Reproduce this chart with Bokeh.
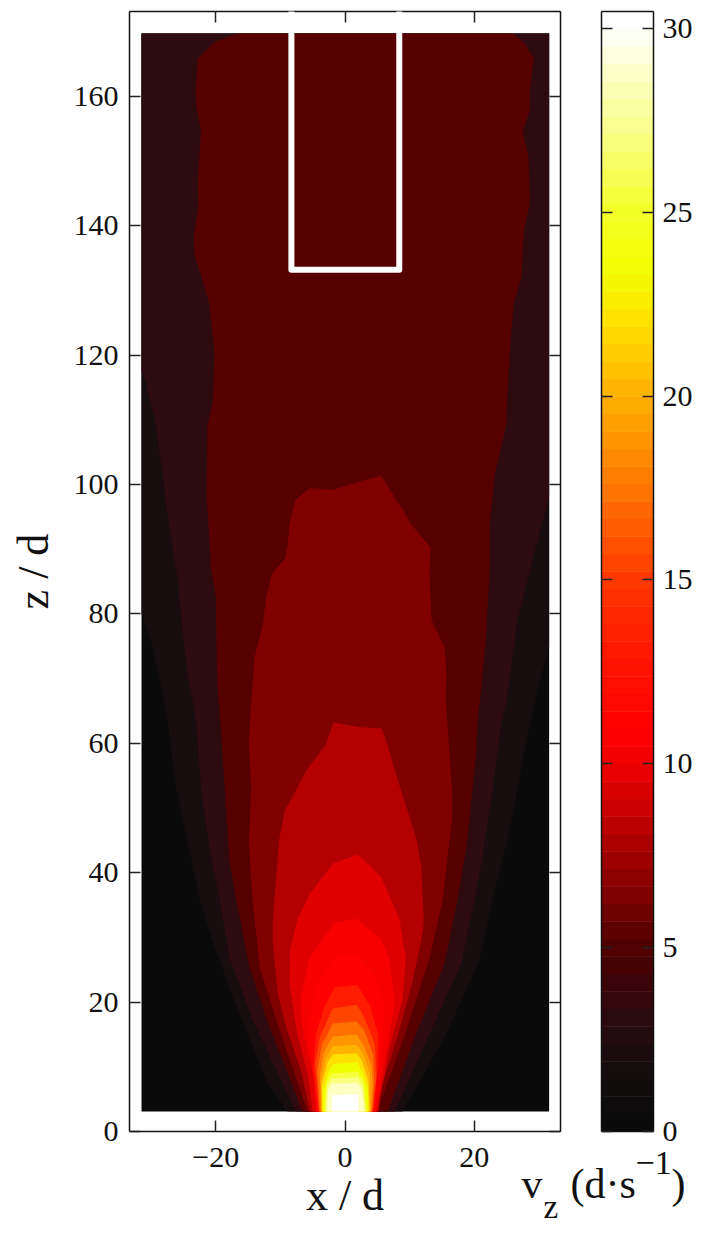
from bokeh.plotting import figure
from bokeh.layouts import row
from bokeh.models import LinearAxis, FixedTicker, Label, Range1d
from bokeh.embed import file_html
from bokeh.resources import INLINE
import numpy as np

FONT = "Liberation Serif"

# domain of the velocity map
x_min, x_max = -31.5, 31.6
z_min, z_max = 3.1, 169.7
background = "#0a0a0a"

# filled contours: left and right edge, top to bottom, as (x/d, z/d)
c01_left = [(-31.5,169.7),(-31.5,80),(-29.8,74.9),(-28,66.6),(-27.4,63.1),(-26.1,52.7),(-23.3,39.9),(-22.5,35.7),(-20.2,28.5),(-16.8,19.2),(-12,7.4),(-8.9,3.1)]
c01_right = [(31.6,169.7),(31.6,74.9),(30.1,69.7),(28,60),(25.5,46.5),(22.8,35.7),(20.8,26.4),(15.7,15.1),(8.9,3.1)]
c02_left = [(-31.5,169.7),(-31.5,117.6),(-30.9,116.1),(-29.2,108.9),(-27.5,95.5),(-25.9,85.2),(-24.6,72.3),(-23,63.1),(-22.3,53.2),(-21,43.9),(-19.4,35.7),(-17.9,26.9),(-14.3,17.2),(-10.1,8.4),(-7.6,3.1)]
c02_right = [(31.6,169.7),(31.6,98.3),(29.8,91.3),(26.7,79),(25,66.6),(24.2,63),(22.8,52.7),(21.3,42.4),(20,35.7),(18,26),(13.1,15.1),(7.7,3.1)]
c03_left = [(-16.6,169.7),(-20.2,168.4),(-22.8,165.8),(-23.1,161.4),(-23,158.3),(-22.3,154.5),(-22.8,146.5),(-22.7,142.9),(-23.4,138.2),(-23.3,135.6),(-21,128),(-20.2,120.2),(-20.5,112.5),(-21.3,109.1),(-21.4,98),(-20.7,86.7),(-20,82.6),(-19.8,69.7),(-19.3,63.5),(-18.7,54.3),(-17.9,41.9),(-16.8,35.7),(-14.8,25.4),(-11.7,16.1),(-8.6,8.4),(-6.6,3.1)]
c03_right = [(26,169.7),(27.9,168.1),(29.2,165.8),(28.6,160.9),(28.6,157.8),(27.5,154.5),(28.4,150.6),(28.6,143.4),(27.7,139.3),(27.3,132),(26.1,128),(25.5,120.2),(25.1,113),(25,109.4),(23.2,101.7),(22.4,94),(22.4,87.2),(21.9,77.4),(21.2,69.7),(20.5,63),(20.3,58.4),(18.8,43.9),(17.4,35.7),(15.4,26),(11,15.1),(6.6,3.1)]
c04_left = [(-5.5,99.4),(-7.7,97.6),(-8.6,93.9),(-8.9,90.3),(-9.3,88.5),(-11.2,86.4),(-12.2,82.6),(-12.7,78.5),(-14,73.3),(-14.5,66.6),(-14.9,60),(-14.5,53.2),(-14.9,44.5),(-14.3,35.7),(-13.2,25.4),(-10.1,15.6),(-7.6,8.4),(-5.8,3.1)]
c04_right = [(-1.9,99.2),(5.6,101.4),(7.7,98),(9.2,95.7),(10.2,93.9),(13.2,90.3),(13.1,86.2),(13.4,79),(15.4,74.9),(15.7,71.3),(15.6,66.6),(16.6,52.2),(16.6,48.6),(15.1,35.7),(13.1,26.9),(9.5,15.6),(5.6,4.8),(5.3,3.1)]
c05_left = [(-1.8,63.2),(-2.9,59.9),(-5.8,56.1),(-7.8,52.4),(-9.3,49.6),(-10.2,45),(-11.2,32.6),(-11.2,29.5),(-10.4,21.3),(-9.1,16.1),(-6.8,9.4),(-5.4,3.1)]
c05_right = [(2.2,62.5),(5.7,62.3),(6.6,59.7),(7.7,55.8),(10.5,47),(11.1,45),(11.8,40.9),(12.2,32.6),(12,30.6),(10.4,22.9),(8.4,15.6),(5.5,6.3),(5.2,3.1)]
c06_left = [(2,42.8),(-1.9,41.4),(-5.6,36.5),(-7.3,32.9),(-8.5,28),(-8.6,22.9),(-7.4,15.1),(-5.8,9),(-5,3.1)]
c06_right = [(5.6,39.3),(8.4,32.9),(9.4,26.9),(8.9,20.2),(6.9,13),(5,3.1)]
c07_left = [(-1.6,32.3),(-5.5,26.9),(-6.9,20.2),(-6.6,16.1),(-5,9),(-4.5,3.1)]
c07_right = [(1.7,32.9),(5.6,29.8),(6.9,26.4),(7.7,20.2),(6.9,15.1),(5.8,9),(4.8,3.1)]
c08_left = [(-1.6,26.9),(-4.3,22.6),(-5.6,17.2),(-5.2,11),(-4.3,3.1)]
c08_right = [(2.2,27.2),(4.6,24.1),(6.1,19.5),(5.8,13.3),(4.6,3.1)]
c09_left = [(-1.6,22.3),(-3.2,19.2),(-4.5,15.1),(-4.9,9.9),(-4.2,3.1)]
c09_right = [(1.9,22.7),(3.9,19.3),(5.2,14.8),(5.1,10),(4.3,3.1)]
c10_left = [(-1.9,19),(-3.9,14.6),(-4.6,10.5),(-4,3.1)]
c10_right = [(1.8,19.6),(2.7,18.2),(4.6,13.6),(4.9,8.7),(4.3,3.1)]
c11_left = [(-1.9,16.7),(-3.6,13.3),(-4.3,9.4),(-3.9,3.1)]
c11_right = [(1.8,17),(3,15.6),(4.4,11.7),(4.5,7.9),(4.2,3.1)]
c12_left = [(-1.9,14.7),(-3.3,12.2),(-3.9,8.7),(-3.7,3.1)]
c12_right = [(1.8,15),(2.9,13.3),(4.1,10.2),(4.3,7.1),(4,3.1)]
c13_left = [(-1.9,13.2),(-3,11.3),(-3.7,7.9),(-3.6,3.1)]
c13_right = [(1.8,13.4),(2.7,12.2),(3.8,9.1),(3.9,3.1)]
c14_left = [(-1.9,11.9),(-2.7,10.7),(-3.6,7.1),(-3.6,3.1)]
c14_right = [(1.8,12.1),(2.6,11),(3.6,7.9),(3.8,3.1)]
c15_left = [(-1.9,10.4),(-2.6,9.1),(-3.4,6.3),(-3.4,3.1)]
c15_right = [(1.9,10.7),(2.6,9.4),(3.5,6.6),(3.6,3.1)]
c16_left = [(-2,9),(-2.8,7.7),(-3.2,3.1)]
c16_right = [(2,9.2),(2.9,7.6),(3.4,3.1)]
c17_left = [(-2,8.2),(-2.8,7),(-3,3.1)]
c17_right = [(2,8.4),(2.8,7),(3.2,3.1)]
c18_left = [(-2,7.4),(-2.6,6.5),(-2.8,3.1)]
c18_right = [(2,7.5),(2.6,6.5),(3,3.1)]
c19_left = [(-2,5.6),(-2,3.1)]
c19_right = [(2,5.7),(2.1,3.1)]

contours = [
    (c01_left, c01_right, "#170c0e"), (c02_left, c02_right, "#2e0b10"),
    (c03_left, c03_right, "#560000"), (c04_left, c04_right, "#800000"),
    (c05_left, c05_right, "#b40000"), (c06_left, c06_right, "#e00000"),
    (c07_left, c07_right, "#f60000"), (c08_left, c08_right, "#ff0000"),
    (c09_left, c09_right, "#ff1c00"), (c10_left, c10_right, "#ff4400"),
    (c11_left, c11_right, "#ff7000"), (c12_left, c12_right, "#ff9500"),
    (c13_left, c13_right, "#ffb300"), (c14_left, c14_right, "#ffe000"),
    (c15_left, c15_right, "#f0ff00"), (c16_left, c16_right, "#f6ff40"),
    (c17_left, c17_right, "#fbff80"), (c18_left, c18_right, "#fdffc4"),
    (c19_left, c19_right, "#ffffff"),
]

# measurement window outline
window_x = [-8.3, -8.3, 8.4, 8.4]
window_z = [173.1, 133.2, 133.2, 173.1]

x_ticks = [-20, 0, 20]
z_ticks = [0, 20, 40, 60, 80, 100, 120, 140, 160]
cbar_ticks = [0, 5, 10, 15, 20, 25, 30]
cbar_max = 30.46
cbar_bands = 64

# colour scale stops
stop_values = [0, 1, 2, 3, 4, 5, 10, 11, 13, 15, 17, 20, 22, 23.5, 25, 27, 29, 30, 31]
stop_colors = ["#0a0a0a", "#0e0c0c", "#170c0e", "#2a0b10", "#3a0408", "#500000", "#f00000",
               "#ff0000", "#ff1800", "#ff3800", "#ff6a00", "#ffb000", "#ffe000", "#f2ff00",
               "#f4ff28", "#f8ff80", "#fdffd0", "#ffffff", "#ffffff"]


def style_axis(ax, ticks, labelled=True):
    ax.ticker = FixedTicker(ticks=ticks)
    ax.major_tick_in = 11
    ax.major_tick_out = 0
    ax.minor_tick_line_color = None
    ax.major_tick_line_color = "#222222"
    ax.major_tick_line_width = 1.5
    ax.axis_line_color = "#111111"
    ax.axis_line_width = 1.5
    ax.major_label_text_font = FONT
    ax.major_label_text_color = "#111111"
    if labelled:
        ax.major_label_text_font_size = "30px"
        ax.major_label_standoff = 9
    else:
        ax.major_label_text_color = None
        ax.major_label_text_font_size = "1px"
        ax.major_label_standoff = 0
    ax.axis_label_text_font = FONT
    ax.axis_label_text_font_style = "normal"
    ax.axis_label_text_font_size = "44px"
    ax.axis_label_text_color = "#111111"


# main panel
p = figure(width=564, height=1221, frame_width=431, frame_height=1120,
           x_range=Range1d(-33.36, 33.36), y_range=Range1d(0, 173.1),
           output_backend="svg", toolbar_location=None,
           min_border_left=129, min_border_right=4, min_border_top=11, min_border_bottom=90,
           background_fill_color="white", x_axis_label="x / d", y_axis_label="z / d")
p.grid.visible = False
p.outline_line_color = None
style_axis(p.xaxis[0], x_ticks)
style_axis(p.yaxis[0], z_ticks)
p.xaxis[0].major_label_standoff = 16
p.yaxis[0].major_label_standoff = 11
p.xaxis[0].axis_label_standoff = 1
p.yaxis[0].axis_label_standoff = 13
for side, ticks in (("above", x_ticks), ("right", z_ticks)):
    extra = LinearAxis()
    style_axis(extra, ticks, labelled=False)
    p.add_layout(extra, side)

p.quad(left=[x_min], right=[x_max], bottom=[z_min], top=[z_max],
       fill_color=background, line_color=None)
for left, right, color in contours:
    pts = left[::-1] + right
    p.patch([q[0] for q in pts], [q[1] for q in pts], fill_color=color, line_color=None)
p.line(window_x, window_z, line_color="white", line_width=6, line_join="round", level="overlay")

# colour bar panel
cb = figure(width=129, height=1221, frame_width=52, frame_height=1120,
            x_range=Range1d(0, 1), y_range=Range1d(0, cbar_max),
            output_backend="svg", toolbar_location=None,
            min_border_left=37, min_border_right=40, min_border_top=11, min_border_bottom=90,
            background_fill_color="white")
cb.grid.visible = False
cb.outline_line_color = None
style_axis(cb.yaxis[0], cbar_ticks, labelled=False)
cb.xaxis[0].visible = False

band = cbar_max / cbar_bands
edges = np.arange(cbar_bands + 1) * band
rgb = np.array([[int(c[i:i + 2], 16) for i in (1, 3, 5)] for c in stop_colors], float)
mids = (edges[:-1] + edges[1:]) / 2
palette = ["#%02x%02x%02x" % tuple(int(round(np.interp(m, stop_values, rgb[:, k]))) for k in range(3))
           for m in mids]
cb.quad(left=0, right=1, bottom=edges[:-1], top=edges[1:], fill_color=palette, line_color=palette, line_width=0.5)

right_axis = LinearAxis()
style_axis(right_axis, cbar_ticks)
cb.add_layout(right_axis, "right")
top_axis = LinearAxis()
style_axis(top_axis, [], labelled=False)
cb.add_layout(top_axis, "above")
bottom_axis = LinearAxis()
style_axis(bottom_axis, [], labelled=False)
cb.add_layout(bottom_axis, "below")

# units label: an overlaid transparent panel, so it can span both panels
lab = figure(width=175, height=96, frame_width=175, frame_height=96,
             x_range=Range1d(0, 175), y_range=Range1d(0, 96),
             output_backend="svg", toolbar_location=None,
             min_border_left=0, min_border_right=0, min_border_top=0, min_border_bottom=0,
             background_fill_alpha=0, border_fill_alpha=0,
             styles={"position": "absolute", "left": "513px", "top": "1133px"})
lab.axis.visible = False
lab.grid.visible = False
lab.outline_line_color = None
label_style = dict(x_units="canvas", y_units="canvas", text_font=FONT, text_color="#111111",
                   text_baseline="alphabetic")
lab.add_layout(Label(x=8, y=50, text="v", text_font_size="42px", **label_style))
lab.add_layout(Label(x=30, y=73, text="z", text_font_size="33px", **label_style))
lab.add_layout(Label(x=57, y=50, text="(d·s", text_font_size="42px", **label_style))
lab.add_layout(Label(x=122, y=29, text="−1", text_font_size="34px", **label_style))
lab.add_layout(Label(x=158, y=50, text=")", text_font_size="42px", **label_style))

open("out.html", "w").write(file_html(row(p, cb, lab), INLINE))
